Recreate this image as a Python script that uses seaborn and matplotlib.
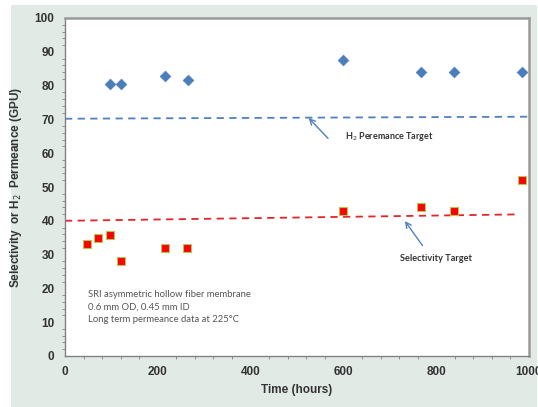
import numpy as np
import pandas as pd
import matplotlib
matplotlib.use("Agg")
import matplotlib.pyplot as plt
import seaborn as sns
from matplotlib.patches import Rectangle
from matplotlib.ticker import MultipleLocator

# H2 permeance (blue diamonds)
perm_hours = [96, 120, 216, 265, 600, 767, 838, 984]
perm_gpu = [80.4, 80.4, 82.9, 81.7, 87.6, 84.0, 84.0, 84.0]

# selectivity (red squares)
sel_hours = [47, 71, 96, 121, 216, 264, 600, 767, 838, 984]
sel_vals = [33.0, 35.0, 35.9, 28.0, 32.0, 32.0, 42.9, 44.0, 43.0, 52.0]

# target lines (start/end points)
perm_target_x = [0, 1000]
perm_target_y = [70.2, 70.8]
sel_target_x = [0, 978]
sel_target_y = [40.0, 41.9]

perm = pd.DataFrame({"hours": perm_hours, "gpu": perm_gpu})
sel = pd.DataFrame({"hours": sel_hours, "val": sel_vals})

sns.set_style("white")
plt.rcParams["font.family"] = ["Liberation Sans", "DejaVu Sans"]

fig = plt.figure(figsize=(5.38, 4.07), dpi=100)
fig.patch.set_facecolor("white")
# grey panel behind the chart
fig.patches.append(Rectangle((11 / 538, 0), 526 / 538, 402 / 407,
                             transform=fig.transFigure, facecolor="#e2eae6",
                             edgecolor="none", zorder=-10))

ax = fig.add_axes([65 / 538, 1 - 356 / 407, 464 / 538, 338 / 407])
ax.set_facecolor("white")

ax.plot(perm_target_x, perm_target_y, ls=(0, (4, 3)), color="#4f81bd", lw=1.3)
ax.plot(sel_target_x, sel_target_y, ls=(0, (4, 3)), color="#e0262a", lw=1.3)

sns.scatterplot(data=perm, x="hours", y="gpu", marker="D", s=30,
                color="#4a7ebb", edgecolor="#4a7ebb", ax=ax, zorder=3)
sns.scatterplot(data=sel, x="hours", y="val", marker="s", s=34,
                color="#ff0000", edgecolor="#b5c45a", linewidth=0.8, ax=ax, zorder=3)

ax.set_xlim(0, 1000)
ax.set_ylim(0, 100)
ax.xaxis.set_major_locator(MultipleLocator(200))
ax.xaxis.set_minor_locator(MultipleLocator(40))
ax.yaxis.set_major_locator(MultipleLocator(10))
ax.yaxis.set_minor_locator(MultipleLocator(2))
ax.tick_params(which="both", direction="out", color="#808080", labelsize=8.5,
               labelcolor="#333333")
ax.tick_params(which="major", length=4, width=0.8)
ax.tick_params(which="minor", length=2.5, width=0.6, left=True, bottom=True)
for lab in ax.get_xticklabels() + ax.get_yticklabels():
    lab.set_fontweight("bold")

for s in ["left", "bottom"]:
    ax.spines[s].set_color("#808080")
    ax.spines[s].set_linewidth(1.0)
for s in ["top", "right"]:
    ax.spines[s].set_color("#9a9a9a")
    ax.spines[s].set_linewidth(1.8)

ax.set_xlabel("Time (hours)", fontsize=8.5, fontweight="bold", color="#333333")
ax.set_ylabel("Selectivity  or H$_2$  Permeance (GPU)", fontsize=8.5,
              fontweight="bold", color="#333333", labelpad=8)

ax.annotate("", xy=(521, 71), xytext=(571, 63.8),
            arrowprops=dict(arrowstyle="->", color="#4f81bd", lw=1.0))
ax.text(603, 64.8, "H$_2$ Peremance Target", fontsize=6.5, fontweight="bold",
        color="#333333", va="center", family="Lato")
ax.annotate("", xy=(729, 40.6), xytext=(774, 32),
            arrowprops=dict(arrowstyle="->", color="#4f81bd", lw=1.0))
ax.text(723, 28.7, "Selectivity Target", fontsize=6.6, fontweight="bold",
        color="#333333", va="center", family="Lato")

ax.text(50, 19.4, "SRI asymmetric hollow fiber membrane\n0.6 mm OD, 0.45 mm ID\n"
        "Long term permeance data at 225°C", fontsize=6.8, color="#555555",
        va="top", linespacing=1.45, family="Lato")

fig.savefig("out.png", dpi=100)
